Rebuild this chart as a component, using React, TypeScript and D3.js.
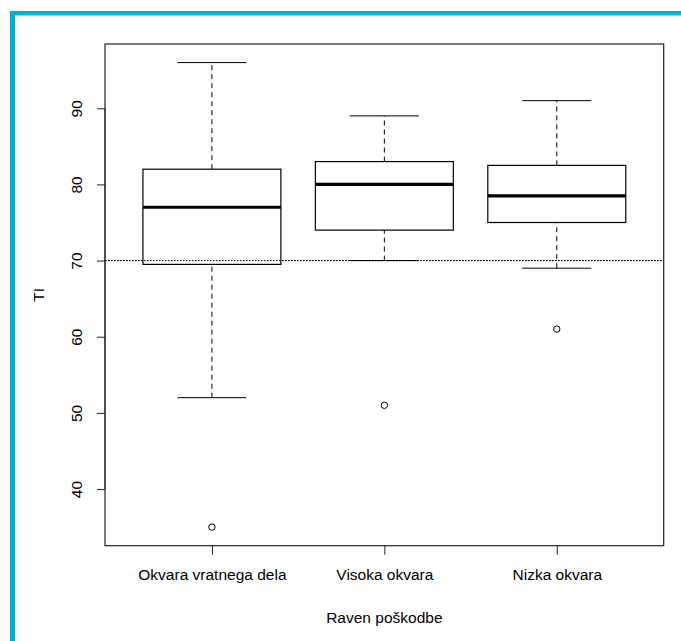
import * as d3 from 'd3';
import { useEffect, useRef } from 'react';

// groups and their five-number summaries
const categories = ['Okvara vratnega dela', 'Visoka okvara', 'Nizka okvara'];
const lowerWhisker = [52, 70, 69];
const q1 = [69.5, 74, 75];
const median = [77, 80, 78.5];
const q3 = [82, 83, 82.5];
const upperWhisker = [96, 89, 91];
const outliers = [[35], [51], [61]];
const yTicks = [40, 50, 60, 70, 80, 90];
const refLine = 70;
const yLabel = 'TI';
const xLabel = 'Raven poškodbe';

function App() {
  const svgRef = useRef<SVGSVGElement | null>(null);

  useEffect(() => {
    const svg = d3.select(svgRef.current);
    svg.selectAll('*').remove();

    const W = 681, H = 641;
    const margin = { top: 44, right: 17.3, bottom: 95.3, left: 105 };
    const font = '"Liberation Sans", Arial, sans-serif';

    // frame in blue
    svg.append('rect').attr('width', W).attr('height', H).attr('fill', 'white');
    svg.append('rect').attr('x', 10).attr('y', 11).attr('width', W - 10).attr('height', 4.5).attr('fill', '#00AEDA');
    svg.append('rect').attr('x', 10).attr('y', 11).attr('width', 5).attr('height', H - 11).attr('fill', '#00AEDA');

    // R style limits: 4% extension
    const allVals = [...lowerWhisker, ...upperWhisker, ...outliers.flat()];
    const lo = d3.min(allVals)!, hi = d3.max(allVals)!;
    const pad = (hi - lo) * 0.04;
    const y = d3.scaleLinear().domain([lo - pad, hi + pad]).range([H - margin.bottom, margin.top]);
    const n = categories.length;
    const xpad = n * 0.04;
    const x = d3.scaleLinear().domain([0.5 - xpad, n + 0.5 + xpad]).range([margin.left, W - margin.right]);

    const g = svg.append('g');

    // reference line
    g.append('line')
      .attr('x1', x.range()[0]).attr('x2', x.range()[1])
      .attr('y1', y(refLine)).attr('y2', y(refLine))
      .attr('stroke', '#000').attr('stroke-width', 1)
      .attr('stroke-dasharray', '1.5,1.5');

    categories.forEach((c, i) => {
      const cx = x(i + 1);
      const bw = x(1.4) - x(1);
      const sw = x(1.2) - x(1);

      // whiskers
      [[lowerWhisker[i], q1[i]], [q3[i], upperWhisker[i]]].forEach(([a, b]) => {
        g.append('line')
          .attr('x1', cx).attr('x2', cx).attr('y1', y(a)).attr('y2', y(b))
          .attr('stroke', '#000').attr('stroke-dasharray', '5,4');
      });
      [lowerWhisker[i], upperWhisker[i]].forEach(v => {
        g.append('line')
          .attr('x1', cx - sw).attr('x2', cx + sw).attr('y1', y(v)).attr('y2', y(v))
          .attr('stroke', '#000');
      });

      // box
      g.append('rect')
        .attr('x', cx - bw).attr('width', bw * 2)
        .attr('y', y(q3[i])).attr('height', y(q1[i]) - y(q3[i]))
        .attr('fill', 'white').attr('stroke', '#000').attr('stroke-width', 1.2);
      g.append('line')
        .attr('x1', cx - bw).attr('x2', cx + bw).attr('y1', y(median[i])).attr('y2', y(median[i]))
        .attr('stroke', '#000').attr('stroke-width', 3.2);

      outliers[i].forEach(v => {
        g.append('circle').attr('cx', cx).attr('cy', y(v)).attr('r', 3.2)
          .attr('fill', 'none').attr('stroke', '#000');
      });
    });

    // redraw the reference line over the boxes (R draws abline after)
    g.append('line')
      .attr('x1', x.range()[0]).attr('x2', x.range()[1])
      .attr('y1', y(refLine)).attr('y2', y(refLine))
      .attr('stroke', '#000').attr('stroke-width', 1)
      .attr('stroke-dasharray', '1.5,1.5');

    // plot box
    svg.append('rect')
      .attr('x', x.range()[0]).attr('y', y.range()[1])
      .attr('width', x.range()[1] - x.range()[0]).attr('height', y.range()[0] - y.range()[1])
      .attr('fill', 'none').attr('stroke', '#222').attr('stroke-width', 1.2);

    // y axis
    const yAxis = d3.axisLeft(y).tickValues(yTicks).tickSize(8).tickSizeOuter(0);
    const ya = svg.append('g').attr('transform', `translate(${margin.left},0)`).call(yAxis);
    ya.select('.domain')
      .attr('d', `M0,${y(yTicks[0])}V${y(yTicks[yTicks.length - 1])}`)
      .attr('stroke', '#222');
    ya.selectAll('.tick line').attr('stroke', '#222');
    ya.selectAll('.tick text')
      .attr('x', null).attr('dy', null)
      .attr('transform', 'translate(-23,0) rotate(-90)')
      .attr('text-anchor', 'middle')
      .style('font-family', font).style('font-size', '15.5px').attr('fill', '#000');

    // x axis
    const xAxis = d3.axisBottom(x).tickValues(d3.range(1, n + 1))
      .tickFormat((d) => categories[(d as number) - 1]).tickSize(9).tickSizeOuter(0);
    const xa = svg.append('g').attr('transform', `translate(0,${H - margin.bottom})`).call(xAxis);
    xa.select('.domain').remove();
    xa.selectAll('.tick line').attr('stroke', '#222');
    xa.selectAll('.tick text')
      .attr('y', 34).attr('dy', null)
      .style('font-family', font).style('font-size', '15.5px').attr('fill', '#000');

    // titles
    svg.append('text')
      .attr('x', (x.range()[0] + x.range()[1]) / 2).attr('y', 623)
      .attr('text-anchor', 'middle')
      .style('font-family', font).style('font-size', '15.5px')
      .text(xLabel);
    svg.append('text')
      .attr('transform', `translate(44,${(y.range()[0] + y.range()[1]) / 2}) rotate(-90)`)
      .attr('text-anchor', 'middle')
      .style('font-family', font).style('font-size', '15.5px')
      .text(yLabel);
  }, []);

  return (
    <svg ref={svgRef} width={681} height={641}
      style={{ position: 'absolute', left: 0, top: 0, display: 'block' }} />
  );
}

export default App;
